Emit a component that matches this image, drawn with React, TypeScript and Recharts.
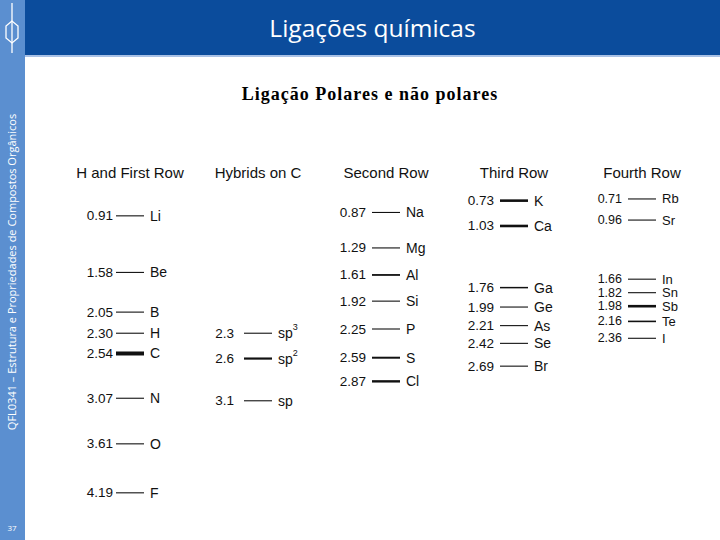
import { ScatterChart, Scatter, XAxis, YAxis } from 'recharts';

// colunas da tabela de eletronegatividade
const COLUMNS = ['H and First Row', 'Hybrids on C', 'Second Row', 'Third Row', 'Fourth Row'];

const firstRowSymbols = ['Li', 'Be', 'B', 'H', 'C', 'N', 'O', 'F'];
const firstRowValues = [0.91, 1.58, 2.05, 2.30, 2.54, 3.07, 3.61, 4.19];

const hybridSymbols = ['sp3', 'sp2', 'sp'];
const hybridValues = [2.3, 2.6, 3.1];

const secondRowSymbols = ['Na', 'Mg', 'Al', 'Si', 'P', 'S', 'Cl'];
const secondRowValues = [0.87, 1.29, 1.61, 1.92, 2.25, 2.59, 2.87];

const thirdRowSymbols = ['K', 'Ca', 'Ga', 'Ge', 'As', 'Se', 'Br'];
const thirdRowValues = [0.73, 1.03, 1.76, 1.99, 2.21, 2.42, 2.69];

const fourthRowSymbols = ['Rb', 'Sr', 'In', 'Sn', 'Sb', 'Te', 'I'];
const fourthRowValues = [0.71, 0.96, 1.66, 1.82, 1.98, 2.16, 2.36];

// rótulos impressos (os híbridos usam uma casa decimal)
const fmt = (v: number, col: number) => (col === 1 ? v.toFixed(1) : v.toFixed(2));

const build = (col: number, symbols: string[], values: number[]) =>
  symbols.map((s, i) => ({ col, value: values[i], symbol: s }));

const series = [
  build(0, firstRowSymbols, firstRowValues),
  build(1, hybridSymbols, hybridValues),
  build(2, secondRowSymbols, secondRowValues),
  build(3, thirdRowSymbols, thirdRowValues),
  build(4, fourthRowSymbols, fourthRowValues),
];

// espessura dos traços (estilo)
const THICK: Record<string, number> = {
  C: 4, sp2: 2.2, K: 2.6, Ca: 2.6, Al: 1.8, S: 2, Cl: 2.4, Sb: 2.6, Te: 1.6, Ga: 1.5,
};
const VALUE_GAP = [17, 24, 20, 20, 20];

const FONT = '"Liberation Sans", Arial, sans-serif';

const Mark = (props: any) => {
  const { cx, cy, payload } = props;
  const w = THICK[payload.symbol] ?? 1.1;
  const sym = payload.symbol as string;
  const sup = sym === 'sp3' || sym === 'sp2' ? sym.slice(2) : null;
  const fs = payload.col === 4 ? 13 : 14;
  return (
    <g>
      <text x={cx - VALUE_GAP[payload.col]} y={cy} textAnchor="end" dominantBaseline="central"
        fontFamily={FONT} fontSize={fs - 0.5} fill="#111">
        {fmt(payload.value, payload.col)}
      </text>
      <line x1={cx - 14} x2={cx + 14} y1={cy} y2={cy} stroke="#111" strokeWidth={w} />
      <text x={cx + 20} y={cy} dominantBaseline="central" fontFamily={FONT} fontSize={fs} fill="#111">
        {sup ? (
          <>
            <tspan>sp</tspan>
            <tspan dy={-6} fontSize={9}>{sup}</tspan>
          </>
        ) : sym}
      </text>
    </g>
  );
};

const HeaderTick = (props: any) => {
  const { x, payload } = props;
  return (
    <text x={x} y={178} textAnchor="middle" fontFamily={FONT} fontSize={15} fill="#111">
      {COLUMNS[payload.value]}
    </text>
  );
};

export default function App() {
  return (
    <div style={{ position: 'absolute', left: 0, top: 0, width: 720, height: 540, background: '#fff', overflow: 'hidden' }}>
      {/* barra lateral e cabeçalho do slide */}
      <div style={{ position: 'absolute', left: 0, top: 0, width: 25, height: 540, background: '#5b8fd0' }} />
      <div style={{ position: 'absolute', left: 25, top: 0, width: 695, height: 55, background: '#0b4c9c' }} />
      <div style={{ position: 'absolute', left: 25, top: 55, width: 695, height: 2, background: '#a9c1e6' }} />
      <div style={{
        position: 'absolute', left: 25, top: 0, width: 695, height: 55, color: '#fff',
        fontFamily: '"Open Sans", sans-serif', fontSize: 24.5, display: 'flex', alignItems: 'center', justifyContent: 'center',
      }}>
        Ligações químicas
      </div>
      <div style={{
        position: 'absolute', left: 0, top: 84, width: 740, textAlign: 'center', letterSpacing: 1,
        fontFamily: '"Liberation Serif", "Times New Roman", serif', fontWeight: 'bold', fontSize: 18, color: '#000',
      }}>
        Ligação Polares e não polares
      </div>
      <svg width={25} height={540} style={{ position: 'absolute', left: 0, top: 0 }}>
        <line x1={12} x2={12} y1={3} y2={53} stroke="#fff" strokeWidth={1.3} />
        <path d="M12 21 L6 26 L6 38 L12 43 L18 38 L18 26 Z" fill="none" stroke="#fff" strokeWidth={1.3} />
        <text x={16} y={272} transform="rotate(-90 16 272)" textAnchor="middle"
          fontFamily='"Open Sans", sans-serif' fontSize={11} fill="#fff">
          QFL0341 – Estrutura e Propriedades de Compostos Orgânicos
        </text>
        <text x={12} y={531} textAnchor="middle" fontFamily='"Open Sans", sans-serif' fontSize={8} fill="#fff">37</text>
      </svg>
      <div style={{ position: 'absolute', left: 0, top: 0 }}>
        <ScatterChart width={720} height={540} margin={{ top: 119, right: 14, bottom: 21, left: 66 }}>
          <XAxis type="number" dataKey="col" orientation="top" domain={[-0.5, 4.5]} ticks={[0, 1, 2, 3, 4]}
            height={20} axisLine={false} tickLine={false} tick={HeaderTick} interval={0} />
          <YAxis type="number" dataKey="value" domain={[0, 4.5]} reversed hide />
          {series.map((d, i) => (
            <Scatter key={i} data={d} shape={<Mark />} isAnimationActive={false} />
          ))}
        </ScatterChart>
      </div>
    </div>
  );
}
